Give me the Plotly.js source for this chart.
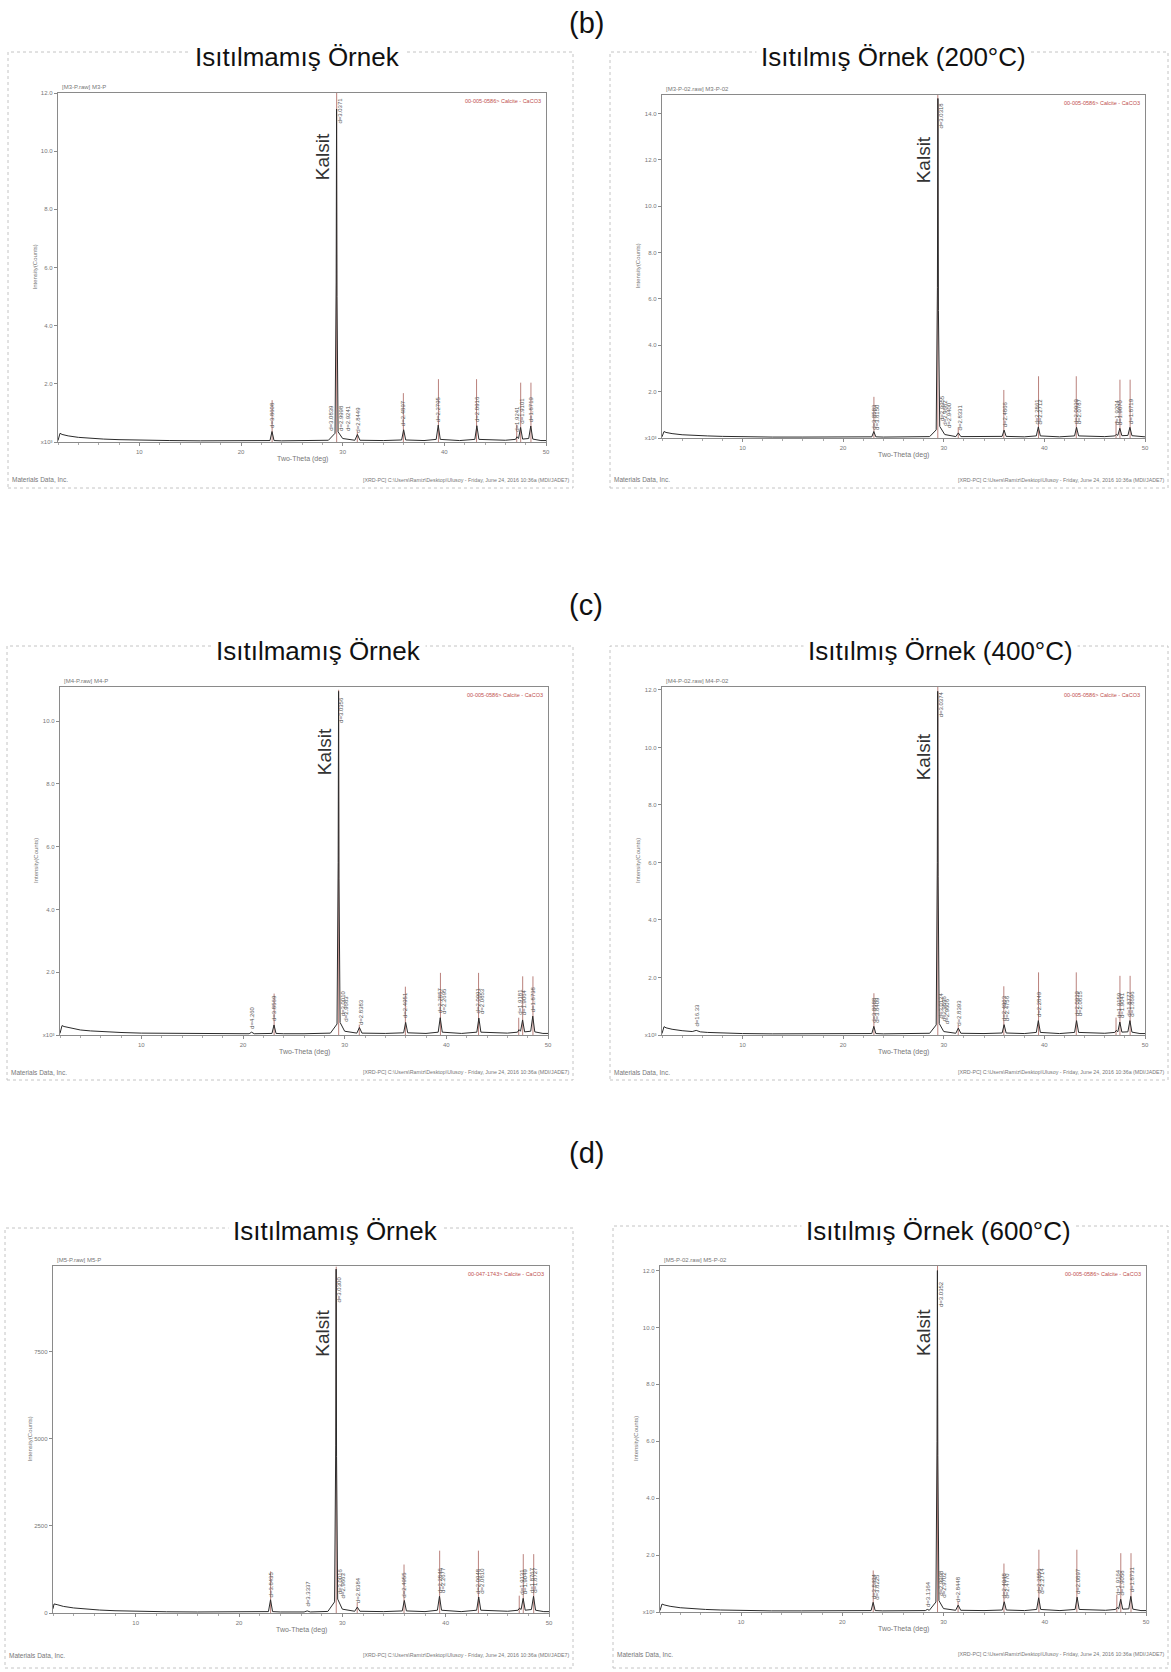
<!DOCTYPE html>
<html><head><meta charset="utf-8">
<script src="https://cdn.plot.ly/plotly-3.0.1.min.js"></script>
<style>html,body{margin:0;padding:0;background:#fff}#chart{width:1171px;height:1672px}</style>
</head><body><div id="chart"></div>
<script>
// ================= DATA =================
const sectionLabels = ['(b)', '(c)', '(d)'];
const panelTitles = ['Isıtılmamış Örnek', 'Isıtılmış Örnek (200°C)', 'Isıtılmamış Örnek', 'Isıtılmış Örnek (400°C)', 'Isıtılmamış Örnek', 'Isıtılmış Örnek (600°C)'];
const fileLabels = ['[M3-P.raw] M3-P', '[M3-P-02.raw] M3-P-02', '[M4-P.raw] M4-P', '[M4-P-02.raw] M4-P-02', '[M5-P.raw] M5-P', '[M5-P-02.raw] M5-P-02'];
const cardLabels = ['00-005-0586> Calcite - CaCO3', '00-005-0586> Calcite - CaCO3', '00-005-0586> Calcite - CaCO3', '00-005-0586> Calcite - CaCO3', '00-047-1743> Calcite - CaCO3', '00-005-0586> Calcite - CaCO3'];
const footLeft = 'Materials Data, Inc.';
const footRight = '[XRD-PC] C:\\Users\\Ramiz\\Desktop\\Ulusoy - Friday, June 24, 2016 10:36a (MDI/JADE7)';
const xTitle = 'Two-Theta (deg)';
const yTitle = 'Intensity(Counts)';
const peakName = 'Kalsit';
const xTicks = [10, 20, 30, 40, 50];

// Calcite reference card (2θ, relative intensity %)
const refPos = [23.06, 29.41, 31.44, 35.97, 39.42, 43.17, 47.12, 47.51, 48.52];
const refInt = [12, 100, 3, 14, 18, 18, 5, 17, 17];
// 100 % stick height per panel (axis units)
const refTop = [12.0, 14.8, 11.0, 12.1, 9950, 12.16];
// y-axis upper limit per panel
const yTop = [12.0, 14.8, 11.09, 12.1, 9970, 12.16];

// (b) unheated  — intensity x10^3 counts
const bL_x = [2.0, 2.2, 2.4, 3.0, 4.0, 5.0, 6.5, 8.0, 10.0, 13.0, 16.0, 19.0, 22.0, 22.85, 23.05, 23.25, 24.0, 26.0, 28.6, 29.25, 29.36, 29.4, 29.44, 29.55, 30.0, 31.2, 31.45, 31.7, 34.0, 35.8, 36.0, 36.2, 38.0, 39.2, 39.4, 39.6, 41.5, 43.0, 43.2, 43.4, 46.0, 47.0, 47.15, 47.3, 47.5, 47.7, 48.3, 48.5, 48.7, 49.5, 50.0];
const bL_y = [0.05, 0.30, 0.26, 0.21, 0.16, 0.13, 0.10, 0.08, 0.06, 0.05, 0.04, 0.04, 0.04, 0.05, 0.36, 0.05, 0.04, 0.04, 0.06, 0.30, 5.5, 11.45, 5.0, 0.35, 0.12, 0.06, 0.26, 0.06, 0.05, 0.07, 0.42, 0.07, 0.05, 0.09, 0.58, 0.09, 0.05, 0.09, 0.56, 0.09, 0.06, 0.09, 0.18, 0.12, 0.50, 0.10, 0.12, 0.55, 0.10, 0.05, 0.05];
const bL_lx = [23.05, 28.85, 29.7, 29.85, 30.55, 31.55, 36.0, 39.4, 43.2, 47.2, 47.55, 48.55];
const bL_ly = [0.45, 0.35, 10.9, 0.35, 0.35, 0.3, 0.5, 0.65, 0.65, 0.3, 0.6, 0.65];
const bL_lt = ['d=3.8608', 'd=3.0839', 'd=3.0371', 'd=2.9998', 'd=2.9241', 'd=2.8449', 'd=2.4897', 'd=2.2795', 'd=2.0916', 'd=1.9241', 'd=1.9101', 'd=1.8719'];
const bL_yt = [0, 2, 4, 6, 8, 10, 12];
const bL_ytt = ['x10³', '2.0', '4.0', '6.0', '8.0', '10.0', '12.0'];

// (b) heated 200°C
const bR_x = [2.0, 2.2, 2.4, 3.0, 4.0, 5.0, 6.5, 8.0, 10.0, 13.0, 16.0, 19.0, 22.0, 22.85, 23.05, 23.25, 24.0, 26.0, 28.6, 29.25, 29.37, 29.42, 29.47, 29.6, 30.1, 31.2, 31.45, 31.7, 34.0, 35.8, 36.0, 36.2, 38.0, 39.2, 39.4, 39.6, 41.5, 43.0, 43.2, 43.4, 46.0, 47.0, 47.15, 47.3, 47.5, 47.7, 48.3, 48.5, 48.7, 49.5, 50.0];
const bR_y = [0.05, 0.28, 0.24, 0.19, 0.14, 0.11, 0.09, 0.07, 0.05, 0.04, 0.04, 0.04, 0.04, 0.05, 0.28, 0.05, 0.04, 0.04, 0.06, 0.35, 6.5, 14.65, 5.5, 0.5, 0.15, 0.06, 0.22, 0.06, 0.05, 0.07, 0.34, 0.07, 0.05, 0.09, 0.48, 0.09, 0.05, 0.09, 0.46, 0.09, 0.06, 0.09, 0.16, 0.11, 0.42, 0.10, 0.11, 0.46, 0.10, 0.05, 0.05];
const bR_lx = [23.05, 23.35, 29.7, 29.85, 30.15, 30.45, 31.65, 36.05, 39.3, 39.6, 43.15, 43.45, 47.3, 47.6, 48.6];
const bR_ly = [0.3, 0.3, 13.3, 0.7, 0.5, 0.4, 0.3, 0.4, 0.55, 0.55, 0.55, 0.55, 0.5, 0.5, 0.55];
const bR_lt = ['d=3.8583', 'd=3.8150', 'd=3.0318', 'd=2.9955', 'd=2.9682', 'd=2.9400', 'd=2.8331', 'd=2.4866', 'd=2.2861', 'd=2.2712', 'd=2.0939', 'd=2.0787', 'd=1.9204', 'd=1.9070', 'd=1.8719'];
const bR_yt = [0, 2, 4, 6, 8, 10, 12, 14];
const bR_ytt = ['x10³', '2.0', '4.0', '6.0', '8.0', '10.0', '12.0', '14.0'];

// (c) unheated
const cL_x = [2.0, 2.2, 2.4, 3.0, 4.0, 5.0, 6.5, 8.0, 10.0, 13.0, 16.0, 20.6, 20.85, 21.1, 22.85, 23.05, 23.25, 24.0, 26.0, 28.6, 29.25, 29.36, 29.4, 29.44, 29.55, 30.0, 31.2, 31.45, 31.7, 34.0, 35.8, 36.0, 36.2, 38.0, 39.2, 39.4, 39.6, 41.5, 43.0, 43.2, 43.4, 46.0, 47.0, 47.15, 47.3, 47.5, 47.7, 48.3, 48.5, 48.7, 49.5, 50.0];
const cL_y = [0.05, 0.30, 0.27, 0.22, 0.16, 0.13, 0.10, 0.08, 0.06, 0.05, 0.04, 0.04, 0.09, 0.04, 0.05, 0.32, 0.05, 0.04, 0.04, 0.06, 0.35, 5.5, 10.95, 5.0, 0.4, 0.12, 0.06, 0.24, 0.06, 0.05, 0.07, 0.40, 0.07, 0.05, 0.09, 0.55, 0.09, 0.05, 0.09, 0.54, 0.09, 0.06, 0.09, 0.17, 0.12, 0.48, 0.10, 0.12, 0.60, 0.10, 0.05, 0.05];
const cL_lx = [20.9, 23.1, 29.7, 29.8, 30.15, 31.55, 36.0, 39.35, 39.7, 43.1, 43.45, 47.3, 47.65, 48.55];
const cL_ly = [0.15, 0.4, 9.9, 0.55, 0.4, 0.3, 0.5, 0.65, 0.65, 0.65, 0.65, 0.6, 0.6, 0.7];
const cL_lt = ['d=4.260', 'd=3.8569', 'd=3.0356', 'd=3.0010', 'd=2.9683', 'd=2.8383', 'd=2.4951', 'd=2.2857', 'd=2.2695', 'd=2.0991', 'd=2.0853', 'd=1.9181', 'd=1.9064', 'd=1.8738'];
const cL_yt = [0, 2, 4, 6, 8, 10];
const cL_ytt = ['x10³', '2.0', '4.0', '6.0', '8.0', '10.0'];

// (c) heated 400°C
const cR_x = [2.0, 2.2, 2.4, 3.0, 4.0, 5.0, 5.4, 5.8, 6.5, 8.0, 10.0, 13.0, 16.0, 19.0, 22.0, 22.85, 23.05, 23.25, 24.0, 26.0, 28.6, 29.25, 29.36, 29.4, 29.44, 29.55, 30.0, 31.2, 31.45, 31.7, 34.0, 35.8, 36.0, 36.2, 38.0, 39.2, 39.4, 39.6, 41.5, 43.0, 43.2, 43.4, 46.0, 47.0, 47.15, 47.3, 47.5, 47.7, 48.3, 48.5, 48.7, 49.5, 50.0];
const cR_y = [0.05, 0.29, 0.25, 0.20, 0.15, 0.12, 0.16, 0.11, 0.09, 0.07, 0.05, 0.04, 0.04, 0.04, 0.04, 0.05, 0.30, 0.05, 0.04, 0.04, 0.06, 0.35, 6.0, 11.95, 5.5, 0.4, 0.12, 0.06, 0.24, 0.06, 0.05, 0.07, 0.36, 0.07, 0.05, 0.09, 0.50, 0.09, 0.05, 0.09, 0.50, 0.09, 0.06, 0.09, 0.16, 0.11, 0.45, 0.10, 0.11, 0.50, 0.10, 0.05, 0.05];
const cR_lx = [5.5, 23.0, 23.3, 29.7, 29.75, 30.05, 30.35, 31.55, 36.0, 36.3, 39.4, 43.2, 43.5, 47.4, 47.7, 48.4, 48.7];
const cR_ly = [0.25, 0.4, 0.4, 11.0, 0.55, 0.45, 0.35, 0.3, 0.45, 0.45, 0.6, 0.6, 0.6, 0.55, 0.55, 0.6, 0.6];
const cR_lt = ['d=16.33', 'd=3.8688', 'd=3.8409', 'd=3.0374', 'd=3.0124', 'd=2.9896', 'd=2.9606', 'd=2.8393', 'd=2.4963', 'd=2.4756', 'd=2.2849', 'd=2.0939', 'd=2.0815', 'd=1.9159', 'd=1.9041', 'd=1.8777', 'd=1.8696'];
const cR_yt = [0, 2, 4, 6, 8, 10, 12];
const cR_ytt = ['x10³', '2.0', '4.0', '6.0', '8.0', '10.0', '12.0'];

// (d) unheated — counts
const dL_x = [2.0, 2.1, 2.4, 3.0, 4.0, 5.0, 6.5, 8.0, 10.0, 13.0, 16.0, 19.0, 22.0, 22.85, 23.05, 23.25, 24.0, 26.3, 26.6, 26.9, 28.6, 29.25, 29.36, 29.4, 29.44, 29.55, 30.0, 31.2, 31.45, 31.7, 34.0, 35.8, 36.0, 36.2, 38.0, 39.2, 39.4, 39.6, 41.5, 43.0, 43.2, 43.4, 46.0, 47.0, 47.15, 47.3, 47.5, 47.7, 48.3, 48.5, 48.7, 49.5, 50.0];
const dL_y = [120, 260, 240, 190, 145, 115, 85, 65, 45, 35, 30, 30, 30, 40, 380, 40, 30, 30, 60, 30, 45, 320, 4800, 9880, 4500, 400, 110, 50, 170, 50, 40, 60, 360, 60, 40, 80, 480, 80, 40, 80, 460, 80, 50, 80, 140, 100, 420, 80, 100, 480, 80, 40, 40];
const dL_lx = [23.1, 26.65, 29.7, 29.75, 30.1, 31.5, 36.0, 39.4, 39.75, 43.15, 43.5, 47.3, 47.65, 48.35, 48.7];
const dL_ly = [420, 150, 8900, 500, 400, 250, 420, 550, 550, 520, 520, 500, 500, 540, 540];
const dL_lt = ['d=3.8435', 'd=3.3337', 'd=3.0300', 'd=3.0016', 'd=2.9663', 'd=2.8384', 'd=2.4955', 'd=2.2846', 'd=2.2677', 'd=2.0948', 'd=2.0810', 'd=1.9131', 'd=1.9049', 'd=1.8767', 'd=1.8727'];
const dL_yt = [0, 2500, 5000, 7500];
const dL_ytt = ['0', '2500', '5000', '7500'];

// (d) heated 600°C
const dR_x = [2.0, 2.2, 2.4, 3.0, 4.0, 5.0, 6.5, 8.0, 10.0, 13.0, 16.0, 19.0, 22.0, 22.85, 23.05, 23.25, 24.0, 26.0, 28.2, 28.4, 28.6, 29.25, 29.36, 29.4, 29.44, 29.55, 30.0, 31.2, 31.45, 31.7, 34.0, 35.8, 36.0, 36.2, 38.0, 39.2, 39.4, 39.6, 41.5, 43.0, 43.2, 43.4, 46.0, 47.0, 47.15, 47.3, 47.5, 47.7, 48.3, 48.5, 48.7, 49.5, 50.0];
const dR_y = [0.05, 0.28, 0.25, 0.20, 0.15, 0.12, 0.09, 0.07, 0.05, 0.04, 0.04, 0.04, 0.04, 0.05, 0.34, 0.05, 0.04, 0.04, 0.05, 0.09, 0.06, 0.35, 6.0, 12.0, 5.5, 0.4, 0.12, 0.06, 0.24, 0.06, 0.05, 0.07, 0.36, 0.07, 0.05, 0.09, 0.50, 0.09, 0.05, 0.09, 0.52, 0.09, 0.06, 0.09, 0.16, 0.11, 0.45, 0.10, 0.11, 0.55, 0.10, 0.05, 0.05];
const dR_lx = [23.1, 23.35, 28.4, 29.7, 29.8, 30.1, 31.5, 36.0, 36.3, 39.4, 39.7, 43.3, 47.3, 47.65, 48.6];
const dR_ly = [0.4, 0.4, 0.15, 10.7, 0.55, 0.45, 0.3, 0.45, 0.45, 0.6, 0.6, 0.6, 0.55, 0.55, 0.65];
const dR_lt = ['d=3.8494', 'd=3.8225', 'd=3.1364', 'd=3.0352', 'd=2.9998', 'd=2.9702', 'd=2.8448', 'd=2.4948', 'd=2.4770', 'd=2.2856', 'd=2.2714', 'd=2.0897', 'd=1.9164', 'd=1.9058', 'd=1.8731'];
const dR_yt = [0, 2, 4, 6, 8, 10, 12];
const dR_ytt = ['x10³', '2.0', '4.0', '6.0', '8.0', '10.0', '12.0'];

// ================= LAYOUT (pixel geometry) =================
const W = 1171, H = 1672;
const FONT = 'Liberation Sans, Arial, Helvetica, sans-serif';
const geom = [
  {plot: [58, 546, 93, 442],     frame: [8, 573, 52, 488],      title: [297, 57],   kal: 157,  foot: 480},
  {plot: [662, 1145, 95, 438],   frame: [610, 1168, 52, 488],   title: [893, 57],   kal: 160,  foot: 480},
  {plot: [60, 548, 687, 1035],   frame: [7, 573, 646, 1080],    title: [318, 651],  kal: 752,  foot: 1072},
  {plot: [662, 1145, 687, 1035], frame: [610, 1168, 646, 1080], title: [940, 651],  kal: 757,  foot: 1072},
  {plot: [53, 549, 1266, 1613],  frame: [5, 573, 1228, 1668],   title: [335, 1231], kal: 1333, foot: 1655},
  {plot: [660, 1146, 1266, 1612],frame: [613, 1168, 1226, 1668],title: [938, 1231], kal: 1333, foot: 1654}
];
const sectionPos = [[586, 23], [586, 605], [586, 1153]];

const panels = [
  {x: bL_x, y: bL_y, lx: bL_lx, ly: bL_ly, lt: bL_lt, yt: bL_yt, ytt: bL_ytt},
  {x: bR_x, y: bR_y, lx: bR_lx, ly: bR_ly, lt: bR_lt, yt: bR_yt, ytt: bR_ytt},
  {x: cL_x, y: cL_y, lx: cL_lx, ly: cL_ly, lt: cL_lt, yt: cL_yt, ytt: cL_ytt},
  {x: cR_x, y: cR_y, lx: cR_lx, ly: cR_ly, lt: cR_lt, yt: cR_yt, ytt: cR_ytt},
  {x: dL_x, y: dL_y, lx: dL_lx, ly: dL_ly, lt: dL_lt, yt: dL_yt, ytt: dL_ytt},
  {x: dR_x, y: dR_y, lx: dR_lx, ly: dR_ly, lt: dR_lt, yt: dR_yt, ytt: dR_ytt}
];

const px = v => v / W;
const py = v => 1 - v / H;

const traces = [];
const annotations = [];
const shapes = [];
const layout = {
  width: W, height: H,
  margin: {l: 0, r: 0, t: 0, b: 0},
  paper_bgcolor: '#ffffff', plot_bgcolor: '#ffffff',
  font: {family: FONT, color: '#222'},
  showlegend: false,
  annotations: annotations, shapes: shapes
};

panels.forEach((p, i) => {
  const g = geom[i];
  const s = i === 0 ? '' : String(i + 1);
  const xa = 'x' + s, ya = 'y' + s;
  const [x0, x1, y0, y1] = g.plot;

  // reference sticks
  const sx = [], sy = [];
  refPos.forEach((r, k) => { sx.push(r, r, null); sy.push(0, refInt[k] / 100 * refTop[i], null); });
  traces.push({x: sx, y: sy, xaxis: xa, yaxis: ya, mode: 'lines', type: 'scatter',
    line: {color: '#9c4a44', width: 0.7}, hoverinfo: 'skip'});
  // pattern
  traces.push({x: p.x, y: p.y, xaxis: xa, yaxis: ya, mode: 'lines', type: 'scatter',
    line: {color: '#2b2b2b', width: 1}, hoverinfo: 'skip'});

  const axCommon = {
    showline: true, mirror: true, linecolor: '#8a8a8a', linewidth: 1.3,
    showgrid: false, zeroline: false, ticks: 'outside', ticklen: 3, tickcolor: '#8a8a8a',
    tickfont: {size: 6, color: '#777', family: FONT}, fixedrange: true
  };
  layout['xaxis' + s] = Object.assign({}, axCommon, {
    domain: [px(x0), px(x1)], anchor: ya, range: [2, 50],
    tickmode: 'array', tickvals: xTicks, ticktext: xTicks.map(String),
    minor: {ticks: 'outside', ticklen: 2, dtick: 2, tick0: 0, tickcolor: '#aaa'}
  });
  layout['yaxis' + s] = Object.assign({}, axCommon, {
    domain: [py(y1), py(y0)], anchor: xa, range: [0, yTop[i]],
    tickmode: 'array', tickvals: p.yt, ticktext: p.ytt
  });

  // panel frame
  const [fx0, fx1, fy0, fy1] = g.frame;
  shapes.push({type: 'rect', xref: 'paper', yref: 'paper', x0: px(fx0), x1: px(fx1), y0: py(fy1), y1: py(fy0),
    line: {color: '#c4c4c4', width: 1, dash: 'dot'}, layer: 'below'});

  // title
  annotations.push({text: panelTitles[i], xref: 'paper', yref: 'paper', x: px(g.title[0]), y: py(g.title[1]),
    xanchor: 'center', yanchor: 'middle', showarrow: false, bgcolor: '#ffffff', borderpad: 4,
    font: {size: 26, color: '#111', family: FONT}});
  // file header
  annotations.push({text: fileLabels[i], xref: 'paper', yref: 'paper', x: px(x0 + 2), y: py(y0 - 1),
    xanchor: 'left', yanchor: 'bottom', showarrow: false, font: {size: 6, color: '#777', family: FONT}});
  // reference card label
  annotations.push({text: cardLabels[i], xref: 'paper', yref: 'paper', x: px(x1 - 3), y: py(y0 + 3),
    xanchor: 'right', yanchor: 'top', showarrow: false, font: {size: 5.5, color: '#c0504d', family: FONT}});
  // axis titles
  annotations.push({text: xTitle, xref: 'paper', yref: 'paper', x: px((x0 + x1) / 2), y: py(y1 + 17),
    xanchor: 'center', yanchor: 'middle', showarrow: false, font: {size: 7, color: '#777', family: FONT}});
  annotations.push({text: yTitle, xref: 'paper', yref: 'paper', x: px(x0 - 24), y: py((y0 + y1) / 2),
    xanchor: 'center', yanchor: 'middle', textangle: -90, showarrow: false, font: {size: 6, color: '#777', family: FONT}});
  // footers
  annotations.push({text: footLeft, xref: 'paper', yref: 'paper', x: px(fx0 + 2), y: py(g.foot),
    xanchor: 'left', yanchor: 'middle', showarrow: false, font: {size: 6.5, color: '#777', family: FONT}});
  annotations.push({text: footRight, xref: 'paper', yref: 'paper', x: px(fx1 - 2), y: py(g.foot),
    xanchor: 'right', yanchor: 'middle', showarrow: false, font: {size: 5.3, color: '#777', family: FONT}});
  // Kalsit label
  annotations.push({text: peakName, xref: xa, yref: 'paper', x: refPos[1], y: py(g.kal),
    xanchor: 'right', yanchor: 'middle', xshift: -2, textangle: -90, showarrow: false,
    font: {size: 19, color: '#333', family: FONT}});
  // d-spacing peak labels
  p.lx.forEach((lx, k) => {
    annotations.push({text: p.lt[k], xref: xa, yref: ya, x: lx, y: p.ly[k],
      xanchor: 'center', yanchor: 'bottom', textangle: -90, showarrow: false, borderpad: 0,
      font: {size: 6, color: '#555', family: FONT}});
  });
});

sectionLabels.forEach((t, k) => {
  annotations.push({text: t, xref: 'paper', yref: 'paper', x: px(sectionPos[k][0]), y: py(sectionPos[k][1]),
    xanchor: 'center', yanchor: 'middle', showarrow: false, font: {size: 29, color: '#111', family: FONT}});
});

Plotly.newPlot('chart', traces, layout, {staticPlot: true, displayModeBar: false});
</script>
</body></html>
